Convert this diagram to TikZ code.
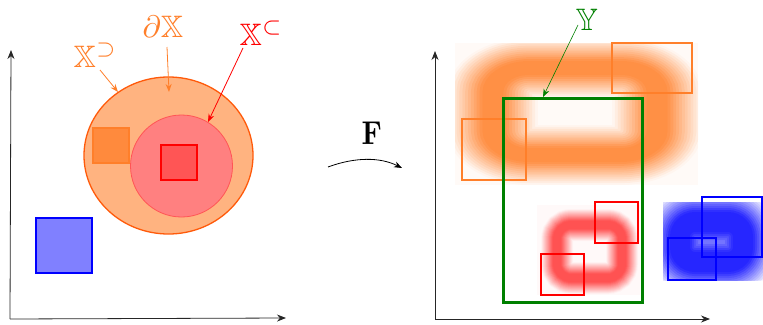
\documentclass[tikz,border=0pt]{standalone}
\usepackage{amssymb}
\usetikzlibrary{arrows.meta}
\definecolor{orA}{HTML}{FF7F2A}
\definecolor{orFill}{HTML}{FFB380}
\definecolor{orEdge}{HTML}{FF5A0A}
\definecolor{orSq}{HTML}{FF8A3D}
\definecolor{orBlur}{HTML}{FF8533}
\definecolor{rdFill}{HTML}{FF8080}
\definecolor{rdEdge}{HTML}{FF5555}
\definecolor{rdSq}{HTML}{FF5555}
\definecolor{rdBlur}{HTML}{FF4040}
\definecolor{blFill}{HTML}{8080FF}
\definecolor{blBlur}{HTML}{1010FF}
\definecolor{grn}{HTML}{008000}
\tikzset{
  axis/.style={draw=black!85, line width=0.8pt, -{Stealth[length=9pt,width=7pt]}},
  lab/.style={inner sep=0pt, scale=3.1, anchor=base west},
  ptr/.style={line width=0.8pt, -{Stealth[length=8pt,width=6pt]}},
  sq/.style={line width=1.4pt},
}
% blurred rounded-rectangle ring: #1 colour, #2 corner radius, #3 core half width,
% #4 outer half width, #5 first corner, #6 opposite corner
\newcommand\blurring[6]{%
  \foreach \j in {0,...,12}{%
    \pgfmathsetmacro\Tj{ifthenelse(\j==0,0.1,0.1+0.9*(\j-0.5)/12)}%
    \pgfmathsetmacro\Tn{ifthenelse(\j==12,1,0.1+0.9*(\j+0.5)/12)}%
    \pgfmathsetmacro\op{1-\Tj/\Tn}%
    \pgfmathsetmacro\lw{2*(#3+\j*(#4-#3)/12)}%
    \draw[draw=#1, line width=\lw pt, draw opacity=\op, rounded corners=#2] #5 rectangle #6;
  }%
}
\begin{document}
\begin{tikzpicture}[x=1pt,y=-1pt]
\useasboundingbox (0,0) rectangle (763,324);
% ---------- left axes ----------
\coordinate (LO) at (10,319);
\coordinate (LY) at (11,50);
\coordinate (LX) at (286,318);
\draw[axis] (LO) -- (LY);
\draw[axis] (LO) -- (LX);
% ---------- left shapes ----------
\draw[fill=orFill, draw=orEdge, line width=1.3pt] (168.5,155.5) ellipse [x radius=84.5pt, y radius=78.5pt];
\draw[fill=rdFill, draw=rdEdge, line width=0.8pt] (181.5,166) circle [radius=51pt];
\draw[sq, fill=orSq, draw=orA] (93,128) rectangle (129,163);
\draw[sq, fill=rdSq, draw=red] (161,145) rectangle (197,180);
\draw[sq, fill=blFill, draw=blue] (36,218) rectangle (92,273);
% ---------- left labels ----------
\node[lab, text=orA] (xsup) at (73,67) {$\mathbb{X}^{\supset}$};
\node[lab, text=orA] (dx) at (142,37) {$\partial\mathbb{X}$};
\node[lab, text=red] (xsub) at (239,45) {$\mathbb{X}^{\subset}$};
\coordinate (xsupS) at (100,70);
\coordinate (xsupT) at (118,92);
\coordinate (dxS) at (167,47);
\coordinate (dxT) at (169,92);
\coordinate (xsubS) at (243,48);
\coordinate (xsubT) at (208,122);
\draw[ptr, orA] (xsupS) -- (xsupT);
\draw[ptr, orA] (dxS) -- (dxT);
\draw[ptr, red] (xsubS) -- (xsubT);
% ---------- map F ----------
\node[inner sep=0pt, anchor=base west, xscale=2.8, yscale=3.3] (F) at (361,144) {$\mathbf{F}$};
\coordinate (FS) at (328,167);
\coordinate (FT) at (402,168);
\draw[line width=0.8pt, -{Stealth[length=8pt,width=6pt]}] (FS) .. controls (355,157) and (380,157) .. (FT);
% ---------- right axes ----------
\coordinate (RO) at (435,319);
\coordinate (RY) at (435,51);
\coordinate (RX) at (710,319);
\draw[axis] (RO) -- (RY);
\draw[axis] (RO) -- (RX);
% ---------- orange blurred ring ----------
\begin{scope}
\clip (455,43) rectangle (698,185);
\fill[orBlur, opacity=0.04] (455,43) rectangle (698,185);
\begin{scope}[transform canvas={shift={(575,0)}, xscale=1.5}]
\blurring{orBlur}{24pt}{7}{30}{(-54.7,68)}{(54.7,155)}
\end{scope}
\end{scope}
\draw[draw=orA, line width=1.2pt] (462,119) rectangle (526,180);
\draw[draw=orA, line width=1.2pt] (612,43) rectangle (692,93);
% ---------- red blurred ring ----------
\begin{scope}
\clip (537,205) rectangle (640,295);
\fill[rdBlur, opacity=0.03] (537,205) rectangle (640,295);
\blurring{rdBlur}{14pt}{4}{16}{(557,225)}{(622,278)}
\end{scope}
% ---------- blue blurred ring ----------
\begin{scope}
\clip (663,202) rectangle (763,280);
\fill[blBlur, opacity=0.04] (663,202) rectangle (763,280);
\blurring{blBlur}{15pt}{10}{34}{(680,222)}{(743,262)}
\end{scope}
% ---------- green Y ----------
\draw[draw=grn, line width=3pt] (503,98) rectangle (642,302);
\draw[draw=red, line width=1.2pt] (595,202) rectangle (638,243);
\draw[draw=red, line width=1.2pt] (541,254) rectangle (584,295);
\draw[draw=blue, line width=1.2pt] (702,197) rectangle (762,257);
\draw[draw=blue, line width=1.2pt] (668,238) rectangle (716,280);
\node[lab, text=grn] (Y) at (575,30) {$\mathbb{Y}$};
\coordinate (YS) at (578,25);
\coordinate (YT) at (543,97);
\draw[ptr, grn, line width=0.6pt] (YS) -- (YT);
\end{tikzpicture}
\end{document}
